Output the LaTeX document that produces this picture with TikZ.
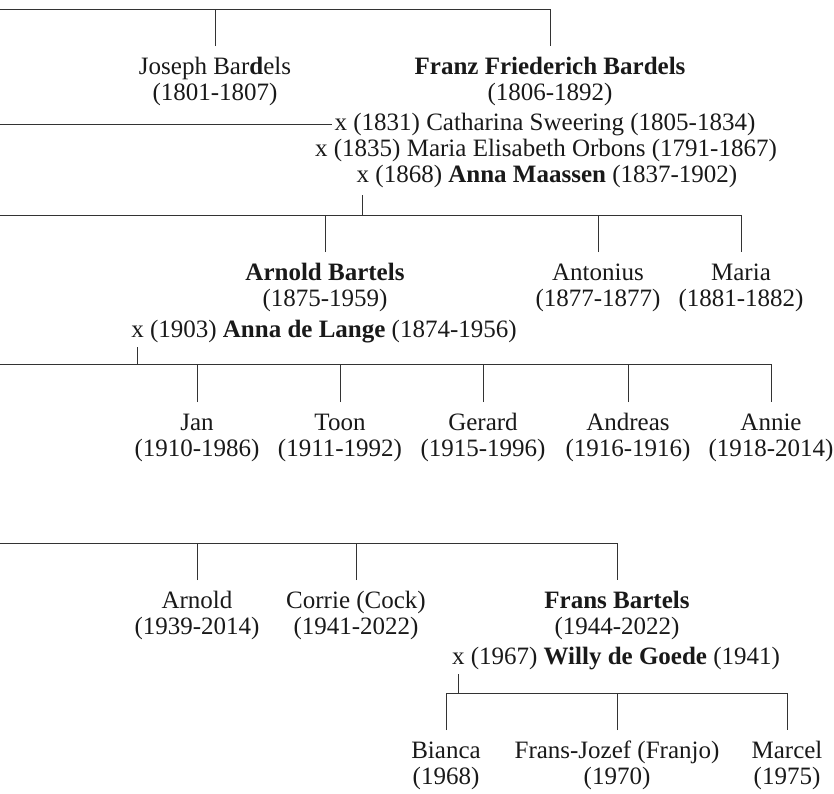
\documentclass[tikz,border=0pt]{standalone}
\usepackage{fontspec}
\setmainfont{Liberation Serif}
\begin{document}
\begin{tikzpicture}[x=1pt,y=-1pt,
  % a person node is placed by the baseline of its last (second) line
  person/.style={inner sep=0pt, outer sep=0pt, align=center, anchor=base,
    font=\fontsize{25}{26}\selectfont, text=black!90},
  spouse/.style={inner sep=0pt, outer sep=0pt, anchor=base,
    font=\fontsize{25}{26}\selectfont, text=black!90},
  link/.style={line width=1pt, draw=black!80}]
\useasboundingbox (0,0) rectangle (834,793);

% free left ends of the lines
\coordinate (L0) at (0,9);
\coordinate (L2) at (0,215);
\coordinate (L3) at (0,364);
\coordinate (L4) at (0,543);

% generation 1
\node[person] (joseph) at (215,100) {Joseph Bar\textbf{d}els\\(1801-1807)};
\node[person] (franz) at (550,100) {\textbf{Franz Friederich Bardels}\\(1806-1892)};
\node[spouse] (m1) at (545,130) {x (1831) Catharina Sweering (1805-1834)};
\node[spouse] (m2) at (546,156) {x (1835) Maria Elisabeth Orbons (1791-1867)};
\node[spouse] (m3) at (547,182) {x (1868) \textbf{Anna Maassen} (1837-1902)};

% generation 2
\node[person] (arnold) at (325,306) {\textbf{Arnold Bartels}\\(1875-1959)};
\node[spouse] (m4) at (324,337) {x (1903) \textbf{Anna de Lange} (1874-1956)};
\node[person] (antonius) at (598,306) {Antonius\\(1877-1877)};
\node[person] (maria) at (741,306) {Maria\\(1881-1882)};

% generation 3
\node[person] (jan) at (197,456) {Jan\\(1910-1986)};
\node[person] (toon) at (340,456) {Toon\\(1911-1992)};
\node[person] (gerard) at (483,456) {Gerard\\(1915-1996)};
\node[person] (andreas) at (628,456) {Andreas\\(1916-1916)};
\node[person] (annie) at (771,456) {Annie\\(1918-2014)};

% generation 4
\node[person] (arnoldb) at (197,634) {Arnold\\(1939-2014)};
\node[person] (corrie) at (356,634) {Corrie (Cock)\\(1941-2022)};
\node[person] (frans) at (617,634) {\textbf{Frans Bartels}\\(1944-2022)};
\node[spouse] (m5) at (616,664) {x (1967) \textbf{Willy de Goede} (1941)};

% generation 5
\node[person] (bianca) at (446,784) {Bianca\\(1968)};
\node[person] (fjozef) at (617,784) {Frans-Jozef (Franjo)\\(1970)};
\node[person] (marcel) at (787,784) {Marcel\\(1975)};

% connector end points (28pt above the first baseline)
\foreach \n in {joseph,franz,arnold,antonius,maria,jan,toon,gerard,andreas,annie,
  arnoldb,corrie,frans,bianca,fjozef,marcel}
  \coordinate (\n-t) at ([yshift=54pt]\n.base);
\coordinate (m3x) at ([xshift=6.25pt,yshift=-13pt]m3.base west);
\coordinate (m4x) at ([xshift=6.25pt,yshift=-10pt]m4.base west);
\coordinate (m5x) at ([xshift=6.25pt,yshift=-10pt]m5.base west);
\coordinate (b5) at ([yshift=37pt]bianca-t);

% generation 1 lines
\draw[link] (L0) -| (franz-t);
\draw[link] (joseph-t) -- (joseph-t |- L0);
\draw[link] (m1.west -| L0) -- ([xshift=-3pt]m1.west);

% generation 2 lines
\draw[link] (m3x) -- (m3x |- L2);
\draw[link] (L2) -| (maria-t);
\foreach \n in {arnold,antonius} \draw[link] (\n-t) -- (\n-t |- L2);

% generation 3 lines
\draw[link] (m4x) -- (m4x |- L3);
\draw[link] (L3) -| (annie-t);
\foreach \n in {jan,toon,gerard,andreas} \draw[link] (\n-t) -- (\n-t |- L3);

% generation 4 lines
\draw[link] (L4) -| (frans-t);
\foreach \n in {arnoldb,corrie} \draw[link] (\n-t) -- (\n-t |- L4);

% generation 5 lines
\draw[link] (bianca-t) -- (b5) -| (marcel-t);
\draw[link] (m5x) -- (m5x |- b5);
\draw[link] (fjozef-t) -- (fjozef-t |- b5);
\end{tikzpicture}
\end{document}
